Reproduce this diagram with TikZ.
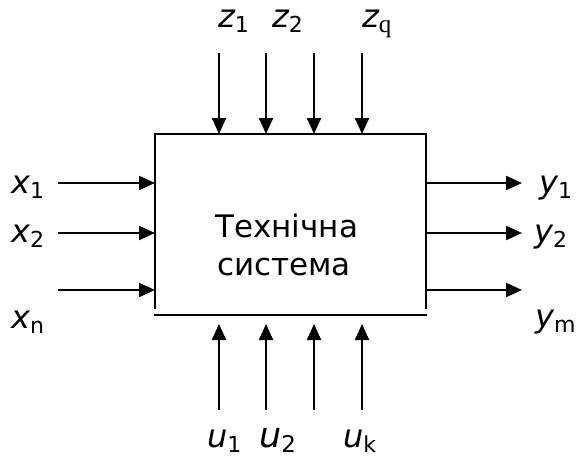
\documentclass[tikz,border=0pt]{standalone}
\usepackage{fontspec}
\setmainfont{DejaVu Sans}
\newfontfamily\serifq{Liberation Serif}
\usetikzlibrary{arrows.meta}
\newcommand{\lblmain}[2]{{\fontsize{32}{32}\selectfont\itshape #1}{\fontsize{22}{22}\selectfont\raisebox{-5pt}{#2}}}
\begin{document}
\begin{tikzpicture}[x=1pt,y=-1pt,
  arr/.style={line width=2.2pt,-{Triangle[length=16pt,width=14pt]}},
  edge/.style={line width=2.2pt},
  lbl/.style={inner sep=0pt,anchor=base west},
  txt/.style={inner sep=0pt,anchor=base west,font=\fontsize{31}{36}\selectfont}]
\useasboundingbox (0,0) rectangle (582,459);
% box
\coordinate (BL) at (155,309);
\coordinate (TL) at (155,134);
\coordinate (TR) at (426,134);
\coordinate (BR) at (426,309);
\coordinate (LL) at (154,315);
\coordinate (LR) at (427,315);
\draw[edge] (BL) -- (TL) -- (TR) -- (BR);
\draw[edge] (LL) -- (LR);
\node[txt] (t1) at (215,237) {Технічна};
\node[txt] (t2) at (217,275) {система};
% inputs x and outputs y
\foreach \i/\y in {1/183,2/233,3/290}{
  \coordinate (xs\i) at (58,\y);
  \coordinate (xe\i) at (155,\y);
  \draw[arr] (xs\i) -- (xe\i);
  \coordinate (ys\i) at (426,\y);
  \coordinate (ye\i) at (522,\y);
  \draw[arr] (ys\i) -- (ye\i);
}
% z and u
\foreach \i/\x in {1/219,2/266,3/314,4/362}{
  \coordinate (zs\i) at (\x,53);
  \coordinate (ze\i) at (\x,134);
  \draw[arr] (zs\i) -- (ze\i);
  \coordinate (us\i) at (\x,410);
  \coordinate (ue\i) at (\x,324);
  \draw[arr] (us\i) -- (ue\i);
}
% labels
\node[lbl] (lx1) at (11,193) {\lblmain{x}{1}};
\node[lbl] (lx2) at (11,242) {\lblmain{x}{2}};
\node[lbl] (lxn) at (11,328) {\lblmain{x}{n}};
\node[lbl] (ly1) at (539,193) {\lblmain{y}{1}};
\node[lbl] (ly2) at (534,242) {\lblmain{y}{2}};
\node[lbl] (lym) at (535,327) {\lblmain{y}{m}};
\node[lbl] (lz1) at (218,27) {\lblmain{z}{1}};
\node[lbl] (lz2) at (272,27) {\lblmain{z}{2}};
\node[lbl] (lzq) at (362,27) {\lblmain{z}{\fontsize{25}{25}\selectfont\serifq q}};
\node[lbl] (lu1) at (207,447) {\lblmain{u}{1}};
\node[lbl] (lu2) at (259,447) {{\fontsize{35}{35}\selectfont\itshape u}{\fontsize{23}{23}\selectfont\raisebox{-5pt}{2}}};
\node[lbl] (luk) at (343,447) {\lblmain{u}{k}};
\end{tikzpicture}
\end{document}
